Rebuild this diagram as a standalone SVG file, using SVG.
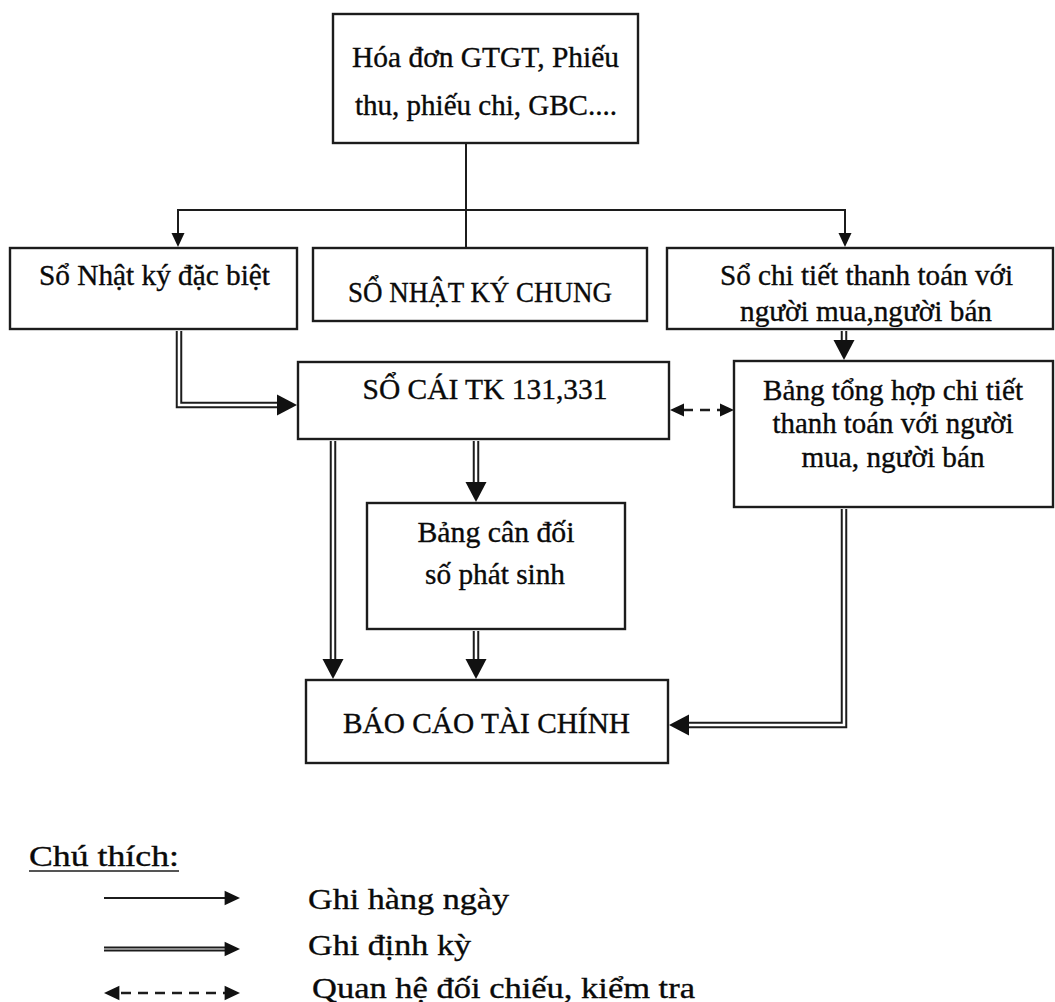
<svg xmlns="http://www.w3.org/2000/svg" width="1055" height="1002" viewBox="0 0 1055 1002">
  <defs>
    <style>
      .box { fill: #fff; stroke: #1c1c1c; stroke-width: 2.4; }
      .t { font-family: "Liberation Serif", "Times New Roman", serif; font-size: 30px; fill: #0a0a0a; stroke: #0a0a0a; stroke-width: 0.35px; text-anchor: middle; }
      .lg { font-family: "Liberation Serif", "Times New Roman", serif; font-size: 30px; fill: #0a0a0a; stroke: #0a0a0a; stroke-width: 0.35px; }
      .thin { fill: none; stroke: #1c1c1c; stroke-width: 2; }
      .dbl-o { fill: none; stroke: #1c1c1c; stroke-width: 6.5; stroke-linejoin: miter; }
      .dbl-i { fill: none; stroke: #fff; stroke-width: 2.5; stroke-linejoin: miter; }
      .dash { fill: none; stroke: #1c1c1c; stroke-width: 2.5; stroke-dasharray: 10 7; }
      .head { fill: #111; }
    </style>
    <!-- arrowheads, tip at the origin, pointing along +x -->
    <path id="hd1" d="M0,0 L-14,-6.5 L-14,6.5 Z"/>
    <path id="hd2" d="M0,0 L-20,-10.5 L-20,10.5 Z"/>
    <clipPath id="clip-sct"><rect x="668" y="249" width="386" height="78"/></clipPath>
  </defs>

  <rect width="1055" height="1002" fill="#fff"/>

  <!-- connectors -->
  <g id="connectors">
    <!-- daily postings from the source documents -->
    <path class="thin" d="M466,144 V248"/>
    <path class="thin" d="M178,236 V210 H845 V236"/>
    <use href="#hd1" class="head" transform="translate(178,247) rotate(90)"/>
    <use href="#hd1" class="head" transform="translate(845,247) rotate(90)"/>

    <!-- periodic postings (double lines) -->
    <path class="dbl-o" d="M179,331 V405 H279"/>
    <path class="dbl-i" d="M179,331 V405 H279"/>
    <use href="#hd2" class="head" transform="translate(297,405)"/>

    <path class="dbl-o" d="M333,441 V661"/>
    <path class="dbl-i" d="M333,441 V661"/>
    <use href="#hd2" class="head" transform="translate(333,679) rotate(90)"/>

    <path class="dbl-o" d="M476,441 V483"/>
    <path class="dbl-i" d="M476,441 V483"/>
    <use href="#hd2" class="head" transform="translate(476,502) rotate(90)"/>

    <path class="dbl-o" d="M476,631 V661"/>
    <path class="dbl-i" d="M476,631 V661"/>
    <use href="#hd2" class="head" transform="translate(476,679) rotate(90)"/>

    <path class="dbl-o" d="M844,331 V342"/>
    <path class="dbl-i" d="M844,331 V342"/>
    <use href="#hd2" class="head" transform="translate(844,360) rotate(90)"/>

    <path class="dbl-o" d="M844,509 V725 H688"/>
    <path class="dbl-i" d="M844,509 V725 H688"/>
    <use href="#hd2" class="head" transform="translate(669,725) rotate(180)"/>

    <!-- cross-check -->
    <path class="dash" d="M683,410 H721"/>
    <use href="#hd1" class="head" transform="translate(670,410) rotate(180)"/>
    <use href="#hd1" class="head" transform="translate(734,410)"/>
  </g>

  <!-- nodes -->
  <g id="chung-tu">
    <rect class="box" x="333" y="14" width="305" height="129"/>
    <text class="t" x="485.5" y="67" textLength="267" lengthAdjust="spacingAndGlyphs">Hóa đơn GTGT, Phiếu</text>
    <text class="t" x="486" y="115" textLength="262" lengthAdjust="spacingAndGlyphs">thu, phiếu chi, GBC....</text>
  </g>

  <g id="nky-dac-biet">
    <rect class="box" x="10" y="248" width="287" height="81"/>
    <text class="t" x="154.5" y="285" textLength="231" lengthAdjust="spacingAndGlyphs">Sổ Nhật ký đặc biệt</text>
  </g>

  <g id="nky-chung">
    <rect class="box" x="313" y="248" width="334" height="73"/>
    <text class="t" x="480" y="302" textLength="264" lengthAdjust="spacingAndGlyphs">SỔ NHẬT KÝ CHUNG</text>
  </g>

  <g id="so-chi-tiet">
    <rect class="box" x="667" y="248" width="386" height="81"/>
    <g clip-path="url(#clip-sct)">
      <text class="t" x="866.5" y="285" textLength="293" lengthAdjust="spacingAndGlyphs">Sổ chi tiết thanh toán với</text>
      <text class="t" x="866" y="321" textLength="252" lengthAdjust="spacingAndGlyphs">người mua,người bán</text>
    </g>
  </g>

  <g id="so-cai">
    <rect class="box" x="298" y="362" width="371" height="77"/>
    <text class="t" x="485" y="399" textLength="245" lengthAdjust="spacingAndGlyphs">SỔ CÁI TK 131,331</text>
  </g>

  <g id="tong-hop-chi-tiet">
    <rect class="box" x="734" y="361" width="319" height="146"/>
    <text class="t" x="893" y="400" textLength="260" lengthAdjust="spacingAndGlyphs">Bảng tổng hợp chi tiết</text>
    <text class="t" x="893" y="433" textLength="241" lengthAdjust="spacingAndGlyphs">thanh toán với người</text>
    <text class="t" x="893" y="467" textLength="183" lengthAdjust="spacingAndGlyphs">mua, người bán</text>
  </g>

  <g id="can-doi-phat-sinh">
    <rect class="box" x="367" y="503" width="258" height="126"/>
    <text class="t" x="496" y="542" textLength="157" lengthAdjust="spacingAndGlyphs">Bảng cân đối</text>
    <text class="t" x="495" y="584" textLength="140" lengthAdjust="spacingAndGlyphs">số phát sinh</text>
  </g>

  <g id="bao-cao-tai-chinh">
    <rect class="box" x="306" y="680" width="362" height="83"/>
    <text class="t" x="486.5" y="733" textLength="287" lengthAdjust="spacingAndGlyphs">BÁO CÁO TÀI CHÍNH</text>
  </g>

  <!-- legend -->
  <g id="legend">
    <text class="lg" x="29" y="866" textLength="150" lengthAdjust="spacingAndGlyphs">Chú thích:</text>
    <line x1="29" y1="871" x2="179" y2="871" stroke="#1c1c1c" stroke-width="1.5"/>

    <path class="thin" d="M104,898 H228"/>
    <use href="#hd1" class="head" transform="translate(240,898) scale(1.1)"/>
    <text class="lg" x="308" y="909" textLength="201" lengthAdjust="spacingAndGlyphs">Ghi hàng ngày</text>

    <path fill="none" stroke="#1c1c1c" stroke-width="5" d="M104,949 H226"/>
    <path fill="none" stroke="#fff" stroke-width="1.2" d="M104,949 H226"/>
    <use href="#hd1" class="head" transform="translate(240,949) scale(1.1)"/>
    <text class="lg" x="308" y="955" textLength="163" lengthAdjust="spacingAndGlyphs">Ghi định kỳ</text>

    <path class="dash" d="M121,993 H225" stroke-dasharray="9 8"/>
    <use href="#hd1" class="head" transform="translate(104,993) rotate(180) scale(1.1)"/>
    <use href="#hd1" class="head" transform="translate(240,993) scale(1.1)"/>
    <text class="lg" x="312" y="998" textLength="383" lengthAdjust="spacingAndGlyphs">Quan hệ đối chiếu, kiểm tra</text>
  </g>
</svg>
